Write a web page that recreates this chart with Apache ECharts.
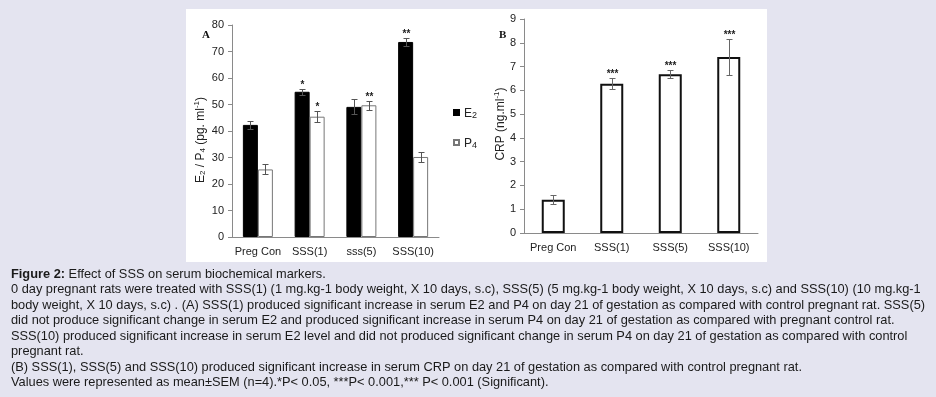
<!DOCTYPE html>
<html>
<head>
<meta charset="utf-8">
<script src="https://cdn.jsdelivr.net/npm/echarts@6/dist/echarts.min.js"></script>
<style>
html, body { margin: 0; padding: 0; background: #e4e4f0; }
#chart { width: 936px; height: 397px; }
</style>
</head>
<body>
<div id="chart"></div>
<script>
// panel A: serum E2 / P4
var groupsA = ["Preg Con", "SSS(1)", "sss(5)", "SSS(10)"];
var e2Values = [42.3, 54.8, 49.1, 73.6];
var e2Sem = [1.5, 1.2, 2.8, 1.6];
var e2Stars = ["", "*", "", "**"];
var p4Values = [25.5, 45.4, 49.7, 30.2];
var p4Sem = [1.9, 2.0, 1.8, 2.0];
var p4Stars = ["", "*", "**", ""];
var yMaxA = 80, yStepA = 10;

// panel B: serum CRP
var groupsB = ["Preg Con", "SSS(1)", "SSS(5)", "SSS(10)"];
var crpValues = [1.4, 6.28, 6.68, 7.4];
var crpSem = [0.18, 0.22, 0.18, 0.75];
var crpStars = ["", "***", "***", "***"];
var yMaxB = 9, yStepB = 1;

var captionLines = [
  "{b|Figure 2:} Effect of SSS on serum biochemical markers.",
  "0 day pregnant rats were treated with SSS(1) (1 mg.kg-1 body weight, X 10 days, s.c), SSS(5) (5 mg.kg-1 body weight, X 10 days, s.c) and SSS(10) (10 mg.kg-1",
  "body weight, X 10 days, s.c) . (A) SSS(1) produced significant increase in serum E2 and P4 on day 21 of gestation as compared with control pregnant rat. SSS(5)",
  "did not produce significant change in serum E2 and produced significant increase in serum P4 on day 21 of gestation as compared with pregnant control rat.",
  "SSS(10) produced significant increase in serum E2 level and did not produced significant change in serum P4 on day 21 of gestation as compared with control",
  "pregnant rat.",
  "(B) SSS(1), SSS(5) and SSS(10) produced significant increase in serum CRP on day 21 of gestation as compared with control pregnant rat.",
  "Values were represented as mean±SEM (n=4).*P< 0.05, ***P< 0.001,*** P< 0.001 (Significant)."
];

var sans = "'Liberation Sans', Arial, sans-serif";

// error bar + significance stars, drawn on the axis scale
function errorSeries(axis, values, sem, stars, shift, color) {
  return {
    type: "custom",
    xAxisIndex: axis,
    yAxisIndex: axis,
    silent: true,
    z: 10,
    data: values.map(function (v, i) { return [i, v - sem[i], v + sem[i]]; }),
    renderItem: function (params, api) {
      var lo = api.coord([api.value(0), api.value(1)]);
      var hi = api.coord([api.value(0), api.value(2)]);
      var x = Math.round(lo[0] + shift) + 0.5;
      var y1 = Math.round(hi[1]) + 0.5, y2 = Math.round(lo[1]) + 0.5;
      var st = { stroke: color, lineWidth: 1 };
      var kids = [
        { type: "line", shape: { x1: x, y1: y1, x2: x, y2: y2 }, style: st },
        { type: "line", shape: { x1: x - 3, y1: y1, x2: x + 3, y2: y1 }, style: st },
        { type: "line", shape: { x1: x - 3, y1: y2, x2: x + 3, y2: y2 }, style: st }
      ];
      var star = stars[params.dataIndex];
      if (star) {
        kids.push({
          type: "text",
          style: {
            text: star, x: x, y: y1 + 1, align: "center", verticalAlign: "bottom",
            font: "bold 10px " + sans, fill: "#222"
          }
        });
      }
      return { type: "group", children: kids };
    }
  };
}

function yAxisStyle(max, step, grid) {
  return {
    type: "value", min: 0, max: max, interval: step, gridIndex: grid,
    splitLine: { show: false },
    axisLine: { show: true, lineStyle: { color: "#8a8a8a" } },
    axisTick: { show: true, length: 4, lineStyle: { color: "#8a8a8a" } },
    axisLabel: { margin: 8, color: "#222", fontSize: 11, fontFamily: sans }
  };
}

function xAxisStyle(data, grid) {
  return {
    type: "category", data: data, gridIndex: grid,
    axisLine: { lineStyle: { color: "#8a8a8a" } },
    axisTick: { length: 4, lineStyle: { color: "#8a8a8a" } },
    axisLabel: { interval: 0, margin: 9, color: "#222", fontSize: 11, fontFamily: sans }
  };
}

var graphics = [
  { type: "rect", shape: { x: 186, y: 9, width: 581, height: 253 }, style: { fill: "#fff" }, z: -10 },
  { type: "text", x: 202, y: 30, style: { text: "A", font: "bold 11px 'Liberation Serif', serif", fill: "#111" } },
  { type: "text", x: 499, y: 30, style: { text: "B", font: "bold 11px 'Liberation Serif', serif", fill: "#111" } },
  {
    type: "text", x: 200, y: 140, rotation: Math.PI / 2,
    style: {
      text: "{n|E}{s|2}{n| / P}{s|4}{n| (pg. ml}{u|-1}{n|)}",
      align: "center", verticalAlign: "middle",
      rich: {
        n: { fontFamily: sans, fontSize: 12, fill: "#222", verticalAlign: "bottom", lineHeight: 14 },
        s: { fontFamily: sans, fontSize: 8, fill: "#222", verticalAlign: "bottom", lineHeight: 14, padding: [4, 0, 0, 0] },
        u: { fontFamily: sans, fontSize: 8, fill: "#222", verticalAlign: "top", lineHeight: 14 }
      }
    }
  },
  {
    type: "text", x: 500, y: 124, rotation: Math.PI / 2,
    style: {
      text: "{n|CRP (ng.ml}{u|-1}{n|)}",
      align: "center", verticalAlign: "middle",
      rich: {
        n: { fontFamily: sans, fontSize: 12, fill: "#222", verticalAlign: "bottom", lineHeight: 14 },
        u: { fontFamily: sans, fontSize: 8, fill: "#222", verticalAlign: "top", lineHeight: 14 }
      }
    }
  }
];

captionLines.forEach(function (line, i) {
  graphics.push({
    type: "text", x: 11, y: 274 + i * 15.5,
    style: {
      text: line, verticalAlign: "middle", font: "12.8px " + sans, fill: "#1a1a1a",
      rich: { b: { font: "bold 12.8px " + sans, fill: "#1a1a1a" } }
    }
  });
});

var option = {
  animation: false,
  backgroundColor: "#e4e4f0",
  grid: [
    { left: 232, top: 25, width: 207, height: 212 },
    { left: 524, top: 19, width: 234, height: 214 }
  ],
  legend: {
    data: ["E2", "P4"],
    orient: "vertical",
    left: 448, top: 101,
    itemGap: 16, itemWidth: 5, itemHeight: 5,
    icon: "rect",
    selectedMode: false,
    formatter: function (name) { return "{n|" + name.charAt(0) + "}{s|" + name.charAt(1) + "}"; },
    textStyle: {
      rich: {
        n: { fontFamily: sans, fontSize: 12, color: "#222", verticalAlign: "bottom", lineHeight: 15 },
        s: { fontFamily: sans, fontSize: 9, color: "#222", verticalAlign: "bottom", lineHeight: 15, padding: [5, 0, 0, 0] }
      }
    }
  },
  xAxis: [xAxisStyle(groupsA, 0), xAxisStyle(groupsB, 1)],
  yAxis: [yAxisStyle(yMaxA, yStepA, 0), yAxisStyle(yMaxB, yStepB, 1)],
  graphic: graphics,
  series: [
    {
      name: "E2", type: "bar", xAxisIndex: 0, yAxisIndex: 0,
      data: e2Values, barWidth: 15, barGap: "0%",
      itemStyle: { color: "#000", borderColor: "#000", borderWidth: 1 }
    },
    {
      name: "P4", type: "bar", xAxisIndex: 0, yAxisIndex: 0,
      data: p4Values, barWidth: 15, barGap: "0%",
      itemStyle: { color: "#fff", borderColor: "#777", borderWidth: 1 }
    },
    errorSeries(0, e2Values, e2Sem, e2Stars, -7.5, "#555"),
    errorSeries(0, p4Values, p4Sem, p4Stars, 7.5, "#555"),
    {
      name: "CRP", type: "bar", xAxisIndex: 1, yAxisIndex: 1,
      data: crpValues, barWidth: 23,
      itemStyle: { color: "#fff", borderColor: "#111", borderWidth: 2 }
    },
    errorSeries(1, crpValues, crpSem, crpStars, 0, "#666")
  ]
};

var myChart = echarts.init(document.getElementById("chart"));
myChart.setOption(option);
</script>
</body>
</html>
